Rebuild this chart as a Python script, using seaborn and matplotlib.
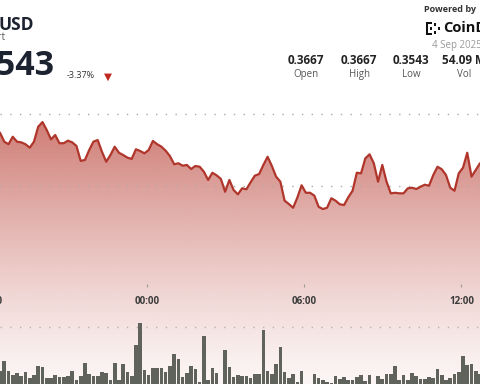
import numpy as np
import pandas as pd
import seaborn as sns
import matplotlib.pyplot as plt
import matplotlib.transforms as mtransforms
from matplotlib.colors import to_rgb
from matplotlib.patches import Rectangle

# price (USD) sampled along the visible window, left to right
price = [0.36370, 0.36308, 0.36290, 0.36342, 0.36308, 0.36303, 0.36290, 0.36266, 0.36308, 0.36412,
         0.36444, 0.36389, 0.36324, 0.36354, 0.36297, 0.36297, 0.36315, 0.36303, 0.36278, 0.36174,
         0.36181, 0.36250, 0.36308, 0.36319, 0.36238, 0.36169, 0.36215, 0.36273, 0.36231, 0.36215,
         0.36197, 0.36188, 0.36255, 0.36243, 0.36227, 0.36250, 0.36313, 0.36290, 0.36273,
         0.36245, 0.36208, 0.36151, 0.36158, 0.36141, 0.36146, 0.36118, 0.36139, 0.36134, 0.36099,
         0.36042, 0.36092, 0.36074, 0.36049, 0.35960, 0.36042, 0.35972, 0.35942, 0.35984, 0.35977,
         0.36026, 0.36072, 0.36083, 0.36146, 0.36203, 0.36139, 0.36065, 0.36030, 0.35898, 0.35875,
         0.35849, 0.35919, 0.36005, 0.35953, 0.35953, 0.35933, 0.35856,
         0.35840, 0.35849, 0.35915, 0.35898, 0.35873, 0.35868, 0.35922, 0.35967, 0.36092, 0.36088,
         0.36192, 0.36220, 0.36158, 0.36030, 0.36146, 0.36030, 0.35949, 0.35953, 0.35949, 0.35949,
         0.35984, 0.35988, 0.35979, 0.35995, 0.36009, 0.36002, 0.36076, 0.36134, 0.36116, 0.36076,
         0.35988, 0.35967, 0.36088, 0.36127, 0.36231, 0.36065, 0.36111, 0.36158]

# volume per interval (thousands)
volume = [127, 233, 127, 87, 107, 77, 117, 57, 87, 177, 167, 63, 57, 87, 67, 67, 77, 133, 37, 77,
          207, 97, 77, 77, 120, 107, 37, 207, 37, 200, 117, 80, 393, 610, 140, 87, 160, 157,
          157, 123, 183, 300, 247, 73, 107, 180, 147, 23, 480, 40, 160, 107, 5, 337, 170, 73,
          87, 77, 77, 57, 97, 100, 540, 127, 100, 203, 367, 123, 63, 97, 23, 133, 5, 5, 100, 60,
          40, 17, 13, 80, 47, 73, 37, 37, 67, 90, 33, 90, 5, 77, 53, 103, 103, 177, 40, 87,
          37, 113, 80, 47, 47, 73, 60, 147, 90, 40, 60, 97, 120, 280, 193, 197, 127, 100]

# hours relative to 00:00 on 4 Sep
start_h = -5.6
step_h = 0.162
hours = start_h + step_h * np.arange(len(price))

tick_hours = [-6, 0, 6, 12]
tick_labels = ["18:00", "00:00", "06:00", "12:00"]
price_grid = [0.365, 0.360]
volume_grid = [570]

stat_values = ["0.3667", "0.3667", "0.3543", "54.09 M"]
stat_names = ["Open", "High", "Low", "Vol"]

df = pd.DataFrame({"hour": hours, "price": price, "volume": volume})

sns.set_theme(style="white")
plt.rcParams["font.family"] = ["Open Sans", "DejaVu Sans"]

W, H = 480, 384
fig = plt.figure(figsize=(W / 100, H / 100), dpi=100)
ax = fig.add_axes([0, 0, 1, 1])

x0, x1 = start_h, start_h + step_h * (len(price) - 1)
y_top, y_bot = 0.372917, 0.346250

# gradient fill under the price line
poly = ax.fill_between(df["hour"], df["price"], y_bot, facecolor="none", edgecolor="none")
rows = np.arange(H)
s = np.clip((H - rows) / 270.0, 0, 1)
alpha = 0.05 + 0.68 * s ** 1.25
grad = np.zeros((H, 1, 4))
grad[:, 0, :3] = to_rgb("#bb463c")
grad[:, 0, 3] = alpha
im = ax.imshow(grad, extent=(x0, x1, y_bot, y_top), aspect="auto", origin="upper", zorder=1)
im.set_clip_path(poly.get_paths()[0], transform=ax.transData)

for g in price_grid:
    ax.axhline(g, color="#a9a9a9", lw=1.0, ls=(0, (1, 6)), zorder=2)

sns.lineplot(data=df, x="hour", y="price", ax=ax, color="#b0362c", linewidth=1.6, zorder=3)

ax2 = ax.twinx()
for g in volume_grid:
    ax2.axhline(g, color="#b9b0ae", lw=1.0, ls=(0, (1, 6)), zorder=0)
ax2.bar(df["hour"], df["volume"], width=step_h * 0.86, color="#5f635b", linewidth=0, zorder=2)

for a in (ax, ax2):
    a.set_xlim(x0, x1)
    a.set_axis_off()
ax.set_ylim(y_bot, y_top)
ax2.set_ylim(0, H * 10)

# time axis labels inside the chart
trans = mtransforms.blended_transform_factory(ax.transData, ax.transAxes)
for t, lab in zip(tick_hours, tick_labels):
    ax.text(t, 1 - 301 / H, lab, transform=trans, ha="center", va="center",
            fontsize=7, fontweight="bold", color="#3b3b3b", clip_on=False)
ax.vlines(tick_hours, 1 - 287 / H, 1 - 284 / H, transform=trans, color="#999999", lw=0.8)


def px(x, y):
    return x / W, 1 - y / H


# header
fig.text(*px(-1.5, 25), "USD", ha="left", va="center", fontsize=12.5, fontweight="bold", color="#1c2230")
fig.text(*px(5.5, 38), "Chart", ha="right", va="center", fontsize=7, color="#555555")
fig.text(*px(55, 66), "0.3543", ha="right", va="center", fontsize=24.5, fontweight="bold", color="#1c2230")
fig.text(*px(67, 76), "-3.37%", ha="left", va="center", fontsize=6.5, color="#333333")
fig.text(*px(108, 76.5), "\u25bc", ha="center", va="center", fontsize=7.5, color="#c0281f",
         family="DejaVu Sans")

fig.text(*px(450, 10), "Powered by", ha="center", va="center", fontsize=6.5, fontweight="bold", color="#333333")
fig.text(*px(443, 28.5), "CoinDesk", ha="left", va="center", fontsize=10.5, fontweight="bold", color="#111111")
for (rx, ry, rw, rh) in [(426, 22, 2.2, 13), (426, 22, 6, 2.2), (426, 32.8, 6, 2.2),
                         (430, 27.4, 2.2, 2.2), (434, 23.5, 2.2, 2.2), (434, 31.5, 2.2, 2.2),
                         (437.5, 27.4, 2.2, 2.2)]:
    fig.add_artist(Rectangle(px(rx, ry + rh), rw / W, rh / H, transform=fig.transFigure,
                             facecolor="#111111", edgecolor="none"))
fig.text(*px(432, 45.5), "4 Sep 2025", ha="left", va="center", fontsize=7, color="#9a9a9a")

for cx, val, name in zip([306, 359, 411, 464], stat_values, stat_names):
    fig.text(*px(cx, 61), val, ha="center", va="center", fontsize=8.5, fontweight="bold", color="#222222")
    fig.text(*px(cx, 74.5), name, ha="center", va="center", fontsize=7, color="#555555")

fig.savefig("out.png", dpi=100)
